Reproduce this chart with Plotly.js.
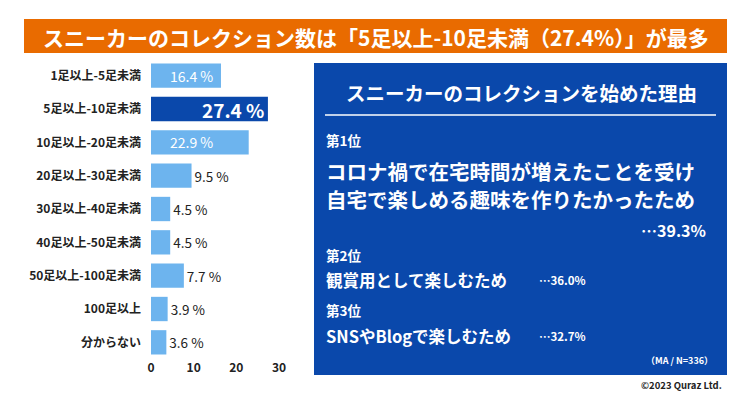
<!DOCTYPE html>
<html>
<head>
<meta charset="utf-8">
<script src="https://cdn.plot.ly/plotly-3.0.1.min.js"></script>
<style>html,body{margin:0;padding:0;background:#fff;}#chart{width:750px;height:395px;}</style>
</head>
<body>
<div id="chart"></div>
<script>
// ---- data ----
const categories = ['1足以上-5足未満','5足以上-10足未満','10足以上-20足未満','20足以上-30足未満','30足以上-40足未満','40足以上-50足未満','50足以上-100足未満','100足以上','分からない'];
const values = [16.4, 27.4, 22.9, 9.5, 4.5, 4.5, 7.7, 3.9, 3.6];
const xTicks = [0, 10, 20, 30];
const chartTitle = 'スニーカーのコレクション数は「5足以上-10足未満（27.4%）」が最多';
const panelTitle = 'スニーカーのコレクションを始めた理由';
const ranks = ['第1位', '第2位', '第3位'];
const reason1Lines = ['コロナ禍で在宅時間が増えたことを受け', '自宅で楽しめる趣味を作りたかったため'];
const reasons = ['観賞用として楽しむため', 'SNSやBlogで楽しむため'];
const reasonValues = [39.3, 36.0, 32.7];
const note = '（MA / N=336）';
const credit = '©2023 Quraz Ltd.';

const FONT = '"Noto Sans CJK JP", "Noto Sans", sans-serif';
const DARK = '#0A48AB', LIGHT = '#6DB4EE', ORANGE = '#E96B00', TXT = '#222222';

// layout geometry helpers (pixel -> paper)
const L = 151, R = 300, T = 59, B = 36, W = 750, H = 395;
const PW = W - L - R, PH = H - T - B;
const px = x => (x - L) / PW;
const py = y => 1 - (y - T) / PH;

const maxIdx = values.indexOf(Math.max(...values));
const insideIdx = values.map((v, i) => v > 15 ? i : -1).filter(i => i >= 0);

const trace = {
  type: 'bar', orientation: 'h',
  y: categories, x: values,
  width: 0.73,
  marker: { color: values.map((v, i) => i === maxIdx ? DARK : LIGHT) },
  text: values.map(v => v.toFixed(1) + ' %'),
  textposition: values.map((v, i) => insideIdx.includes(i) ? 'none' : 'outside'),
  textfont: { family: FONT, size: 13.5, color: TXT },
  cliponaxis: false,
  hoverinfo: 'skip'
};

const annotations = [];
const A = (text, x, y, size, o = {}) => annotations.push(Object.assign({
  text, x: px(x), y: py(y), xref: 'paper', yref: 'paper', showarrow: false,
  xanchor: 'left', yanchor: 'middle',
  font: { family: FONT, size, color: '#ffffff' }
}, o));

// inside bar labels (from data, through axis scale)
insideIdx.forEach(i => {
  const big = i === maxIdx;
  annotations.push({
    text: big ? '<b>' + values[i].toFixed(1) + ' %</b>' : values[i].toFixed(1) + ' %',
    x: big ? values[i] : 4, y: categories[i], xref: 'x', yref: 'y',
    xanchor: big ? 'right' : 'left', yanchor: 'middle', xshift: big ? -2 : 0,
    showarrow: false,
    font: { family: FONT, size: big ? 19 : 14, color: '#ffffff' }
  });
});

// title
A('<b>' + chartTitle + '</b>', 375.5, 36.5, 21, { xanchor: 'center' });
// panel
A('<b>' + panelTitle + '</b>', 521, 93, 19.5, { xanchor: 'center' });
A('<b>' + ranks[0] + '</b>', 324, 140, 13.5);
A('<b>' + reason1Lines[0] + '</b>', 324, 171, 20.5, { height: 24 });
A('<b>' + reason1Lines[1] + '</b>', 324, 198.5, 20.5, { height: 24 });
A('<b>…' + reasonValues[0].toFixed(1) + '%</b>', 708, 230, 16, { xanchor: 'right' });
A('<b>' + ranks[1] + '</b>', 324, 255, 13.5);
A('<b>' + reasons[0] + '</b>', 324, 280, 16.5);
A('<b>…' + reasonValues[1].toFixed(1) + '%</b>', 537, 280, 11.5);
A('<b>' + ranks[2] + '</b>', 324, 310, 13.5);
A('<b>' + reasons[1] + '</b>', 324, 336, 16.5);
A('<b>…' + reasonValues[2].toFixed(1) + '%</b>', 537, 336, 11.5);
A('<b>' + note + '</b>', 715, 360, 9, { xanchor: 'right' });
A('<b>' + credit + '</b>', 724, 385, 9.5, { xanchor: 'right', font: { family: FONT, size: 9.5, color: TXT } });

const shapes = [
  { type: 'rect', xref: 'paper', yref: 'paper', x0: px(24), x1: px(727), y0: py(53), y1: py(19), fillcolor: ORANGE, line: { width: 0 }, layer: 'below' },
  { type: 'rect', xref: 'paper', yref: 'paper', x0: px(314), x1: px(727), y0: py(375), y1: py(63), fillcolor: DARK, line: { width: 0 }, layer: 'below' },
  { type: 'line', xref: 'paper', yref: 'paper', x0: px(325), x1: px(716), y0: py(115), y1: py(115), line: { color: '#ffffff', width: 1.5 } }
];

const layout = {
  width: W, height: H,
  margin: { l: L, r: R, t: T, b: B, pad: 0 },
  paper_bgcolor: '#ffffff', plot_bgcolor: 'rgba(0,0,0,0)',
  showlegend: false,
  font: { family: FONT, color: TXT },
  xaxis: {
    range: [0, PW / 4.267], tickvals: xTicks, ticktext: xTicks.map(String),
    showgrid: false, zeroline: false, showline: false, ticks: '',
    tickfont: { family: FONT, size: 12, color: TXT, weight: 700 }, fixedrange: true
  },
  yaxis: {
    type: 'category', autorange: 'reversed', showgrid: false, zeroline: false, showline: false, ticks: '',
    ticklabelstandoff: 9,
    tickfont: { family: FONT, size: 12, color: TXT, weight: 700 }, fixedrange: true
  },
  shapes, annotations
};

Plotly.newPlot('chart', [trace], layout, { displayModeBar: false, staticPlot: true });
</script>
</body>
</html>
